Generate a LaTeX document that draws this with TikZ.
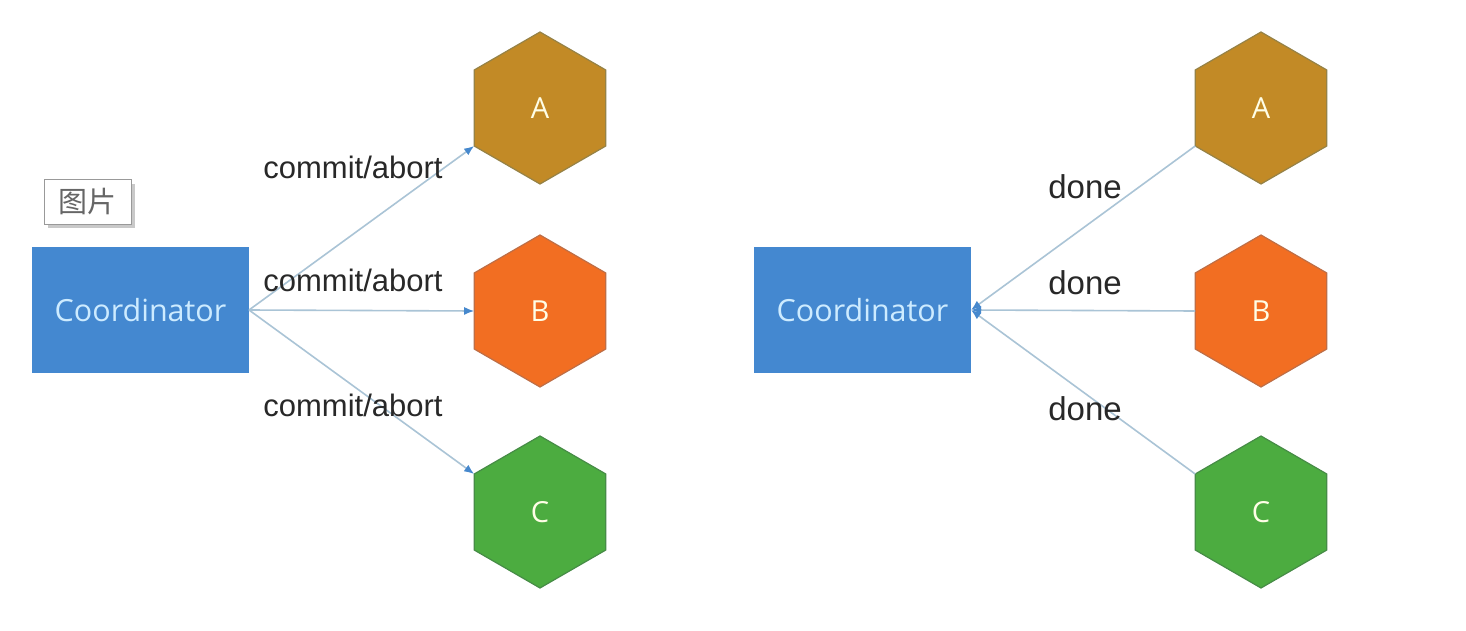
\documentclass[tikz,border=0pt]{standalone}
\usepackage{fontspec}
\setmainfont{Liberation Sans}
\newfontfamily\osfont{Open Sans}
\newfontfamily\cjkfont{Noto Sans CJK SC}
\usetikzlibrary{shapes.geometric,arrows.meta,shadows}
\definecolor{coordblue}{RGB}{68,136,208}
\definecolor{coordtext}{RGB}{205,235,255}
\definecolor{hexA}{RGB}{194,138,38}
\definecolor{hexAedge}{RGB}{150,130,70}
\definecolor{hexB}{RGB}{242,110,34}
\definecolor{hexBedge}{RGB}{190,110,70}
\definecolor{hexC}{RGB}{76,172,64}
\definecolor{hexCedge}{RGB}{70,140,70}
\definecolor{linecol}{RGB}{170,196,214}
\definecolor{tipcol}{RGB}{70,136,205}
\definecolor{labtext}{RGB}{40,40,40}
\tikzset{
  coordbox/.style={rectangle, fill=coordblue, minimum width=217pt, minimum height=126pt,
    inner sep=0pt, outer sep=0pt, text=coordtext, font=\osfont\fontsize{30.5}{32}\selectfont},
  hexnode/.style={regular polygon, regular polygon sides=6, shape border rotate=30,
    minimum size=152pt, inner sep=0pt, outer sep=0pt, line width=1.2pt,
    text=white!90!yellow, font=\osfont\fontsize{29}{30}\selectfont},
  msg/.style={draw=linecol, line width=1.6pt,
    -{Latex[length=10pt,width=8pt,color=tipcol]}},
  msglabel/.style={text=labtext, font=\fontsize{31}{32}\selectfont, inner sep=0pt},
  donelabel/.style={text=labtext, font=\fontsize{33}{34}\selectfont, inner sep=0pt},
  tagbox/.style={rectangle, draw=black!40, fill=white, line width=1pt,
    minimum width=87pt, minimum height=44pt, inner sep=0pt,
    drop shadow={shadow xshift=4pt, shadow yshift=-4pt, fill=black!35, opacity=0.6},
    text=black!60, font=\cjkfont\fontsize{29}{30}\selectfont}
}
\begin{document}
\begin{tikzpicture}[x=1pt,y=-1pt]
\useasboundingbox[fill=white] (0,0) rectangle (1466,631);
% left side
\node[coordbox] (L) at (140.5,310) {Coordinator};
\node[hexnode, fill=hexA, draw=hexAedge] (LA) at (540,108) {A};
\node[hexnode, fill=hexB, draw=hexBedge] (LB) at (540,311) {B};
\node[hexnode, fill=hexC, draw=hexCedge] (LC) at (540,512) {C};
\node[tagbox] (tag) at (87.5,202) {图片};
\draw[msg] (L.east) -- (LA.210);
\draw[msg] (L.east) -- (LB.west);
\draw[msg] (L.east) -- (LC.150);
\node[msglabel] (l1) at (353,167) {commit/abort};
\node[msglabel] (l2) at (353,280) {commit/abort};
\node[msglabel] (l3) at (353,405) {commit/abort};
% right side
\node[coordbox] (R) at (862.5,310) {Coordinator};
\node[hexnode, fill=hexA, draw=hexAedge] (RA) at (1261,108) {A};
\node[hexnode, fill=hexB, draw=hexBedge] (RB) at (1261,311) {B};
\node[hexnode, fill=hexC, draw=hexCedge] (RC) at (1261,512) {C};
\draw[msg] (RA.210) -- (R.east);
\draw[msg] (RB.west) -- (R.east);
\draw[msg] (RC.150) -- (R.east);
\node[donelabel] (r1) at (1085,187) {done};
\node[donelabel] (r2) at (1085,283) {done};
\node[donelabel] (r3) at (1085,409) {done};
\end{tikzpicture}
\end{document}
